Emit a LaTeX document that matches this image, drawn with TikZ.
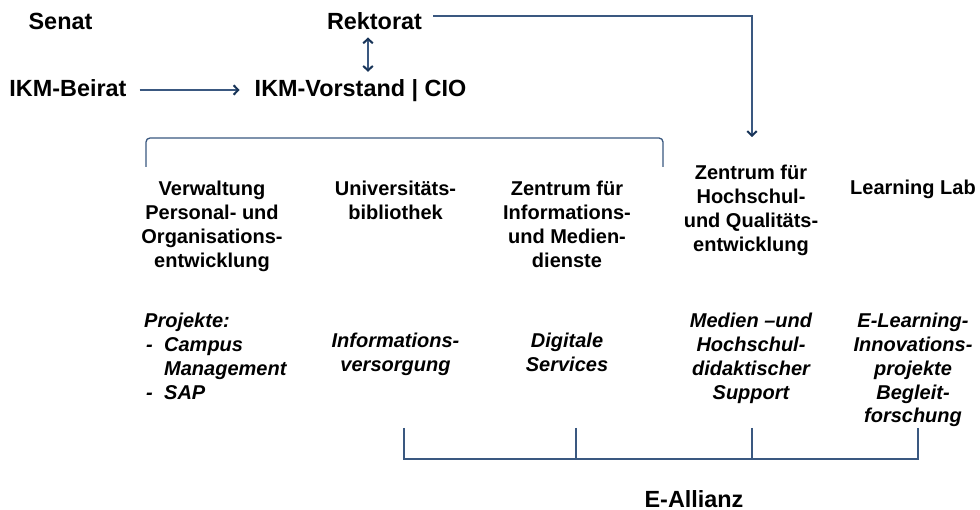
\documentclass[tikz,border=0pt]{standalone}
\usepackage{fontspec}
\setmainfont{Liberation Sans}
\usetikzlibrary{arrows.meta}
\definecolor{linkblue}{RGB}{58,88,128}
\definecolor{tipblue}{RGB}{24,52,88}
\begin{document}
\begin{tikzpicture}[x=1pt,y=-1pt,
  head/.style={font=\fontsize{23.4}{28}\selectfont\bfseries, inner sep=0pt, anchor=base},
  unit/.style={font=\fontsize{20}{23.7}\selectfont\bfseries, inner sep=0pt, anchor=base, align=center},
  task/.style={font=\fontsize{20}{23.7}\selectfont\bfseries\itshape, inner sep=0pt, anchor=base, align=center},
  link/.style={draw=linkblue, line width=1.3pt},
  barb/.tip={Straight Barb[length=4.5pt,width=9.5pt,line width=2pt,color=tipblue]},
  tip/.style={-barb},
  tips/.style={barb-barb}
]
\fill[white] (0,0) rectangle (980,510);
\useasboundingbox (0,0) rectangle (980,510);

% top level (base anchor = baseline)
\node[head] (senat) at (60.5,30) {Senat};
\node[head] (rektorat) at (374.5,30) {Rektorat};
\node[head] (beirat) at (68,97) {IKM-Beirat};
\node[head] (vorstand) at (360.5,97) {IKM-Vorstand | CIO};

% organisational units (base anchor = baseline of the last line)
\node[unit] (verw) at (212,267.1) {Verwaltung\\Personal- und\\Organisations-\\entwicklung};
\node[unit] (ub) at (395.5,219.7) {Universitäts-\\bibliothek};
\node[unit] (zim) at (567,267.1) {Zentrum für\\Informations-\\und Medien-\\dienste};
\node[unit] (zhq) at (751,251.1) {Zentrum für\\Hochschul-\\und Qualitäts-\\entwicklung};
\node[unit] (lab) at (913,195) {Learning Lab};

% tasks
\node[task, align=left, anchor=base west] (proj) at (144,399.1)
  {Projekte:\\\makebox[20pt][l]{\hspace{2pt}-}Campus\\\hspace*{20pt}Management\\\makebox[20pt][l]{\hspace{2pt}-}SAP};
\node[task] (info) at (395.5,371.7) {Informations-\\versorgung};
\node[task] (dig) at (567,371.7) {Digitale\\Services};
\node[task] (med) at (751,399.1) {Medien –und\\Hochschul-\\didaktischer\\Support};
\node[task] (elearn) at (913,422.8) {E-Learning-\\Innovations-\\projekte\\Begleit-\\forschung};

\node[head] (allianz) at (694,507) {E-Allianz};

% connectors between the top-level bodies
\coordinate (rkout) at (433,16);
\coordinate (zhqin) at (752,137);
\draw[link, tip] (rkout) -| (zhqin);
\draw[link, tips] ([xshift=-6.5pt,yshift=-7pt]rektorat.south) -- ([xshift=7.5pt,yshift=8pt]vorstand.north);
\draw[link, tip] ([shift={(13pt,7pt)}]beirat.base east) -- ([shift={(-15pt,7pt)}]vorstand.base west);

% bracket over the three central units
\coordinate (brl) at (146,167);
\coordinate (brr) at (663,167);
\draw[link, rounded corners=4pt] (brl) -- (146,138) -- (663,138) -- (brr);

% E-Allianz bracket
\coordinate (e1) at (404,428);
\coordinate (e2) at (576,428);
\coordinate (e3) at (752,428);
\coordinate (e4) at (918,428);
\draw[link] (e1) -- (404,459) -- (918,459) -- (e4);
\draw[link] (e2) -- (576,459);
\draw[link] (e3) -- (752,459);
\end{tikzpicture}
\end{document}
